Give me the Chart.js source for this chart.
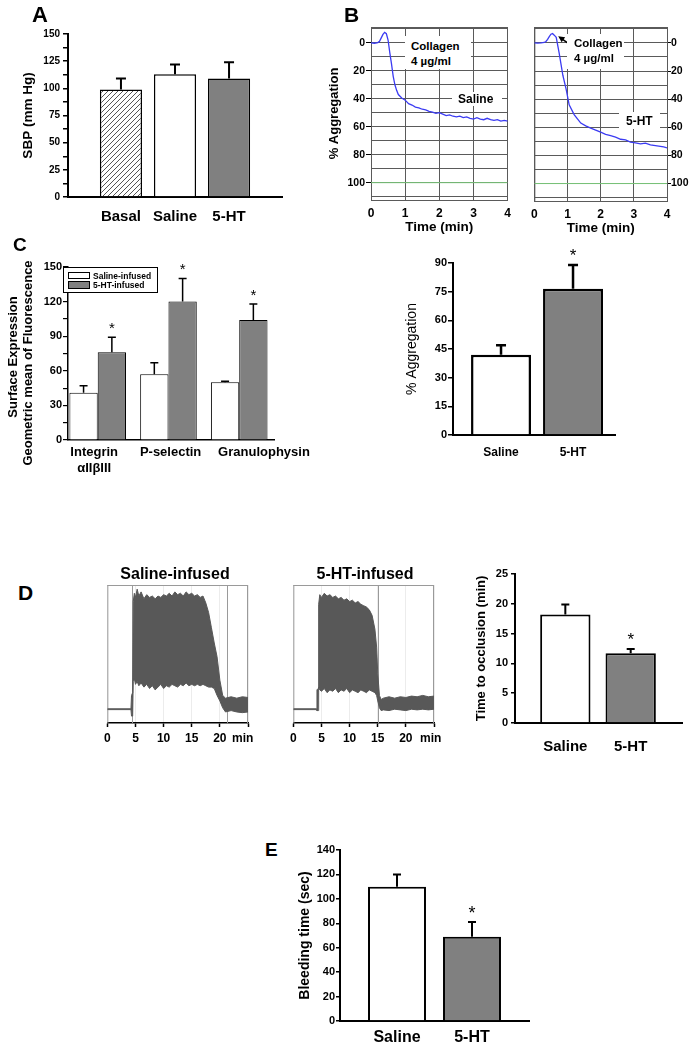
<!DOCTYPE html>
<html>
<head>
<meta charset="utf-8">
<script src="https://cdn.jsdelivr.net/npm/chart.js@4.4.1/dist/chart.umd.min.js"></script>
<style>
  body { margin: 0; background: #fff; }
  #fig { position: relative; width: 695px; height: 1050px; overflow: hidden; font-family: "Liberation Sans", Arial, sans-serif; }
  .t { position: absolute; font-weight: bold; color: #000; white-space: nowrap; line-height: 1; z-index: 3; }
  .c { transform: translate(-50%, -50%); }
  .l { transform: translate(0, -50%); }
  .r { transform: translate(-50%, -50%) rotate(-90deg); }
  .wb { position: absolute; background: #fff; z-index: 2; }
</style>
</head>
<body>
<div id="fig">
  <div class="t l" style="left:32px;top:15px;font-size:22px">A</div>
  <div class="t l" style="left:344px;top:14px;font-size:21px">B</div>
  <div class="t l" style="left:13px;top:244px;font-size:19px">C</div>
  <div class="t l" style="left:18px;top:592px;font-size:21px">D</div>
  <div class="t l" style="left:265px;top:849px;font-size:19px">E</div>

  <!-- B annotations -->
  <div class="wb" style="left:405px;top:36px;width:66px;height:33px"></div>
  <div class="t l" style="left:411px;top:47px;font-size:11.5px">Collagen</div>
  <div class="t l" style="left:411px;top:62px;font-size:11.5px">4 µg/ml</div>
  <div class="wb" style="left:452px;top:92px;width:50px;height:14px"></div>
  <div class="t l" style="left:458px;top:99px;font-size:12px">Saline</div>
  <div class="wb" style="left:567px;top:34px;width:57px;height:35px"></div>
  <div class="t l" style="left:574px;top:44px;font-size:11.5px">Collagen</div>
  <div class="t l" style="left:574px;top:59px;font-size:11.5px">4 µg/ml</div>
  <div class="wb" style="left:619px;top:112px;width:41px;height:17px"></div>
  <div class="t l" style="left:626px;top:121px;font-size:12px">5-HT</div>

  <!-- C axis title and legend -->
  <div class="t r" style="left:12px;top:357px;font-size:13px">Surface Expression</div>
  <div class="t r" style="left:27px;top:363px;font-size:13px">Geometric mean of Fluorescence</div>
  <div class="wb" style="left:63px;top:267px;width:93px;height:24px;border:1px solid #000"></div>
  <div class="wb" style="left:68px;top:272px;width:20px;height:5px;border:1px solid #000;z-index:3"></div>
  <div class="wb" style="left:68px;top:281px;width:20px;height:6px;border:1px solid #000;background:#808080;z-index:3"></div>
  <div class="t l" style="left:93px;top:275.5px;font-size:8.5px">Saline-infused</div>
  <div class="t l" style="left:93px;top:285px;font-size:8.5px">5-HT-infused</div>

  <!-- D titles -->
  <div class="t c" style="left:175px;top:574px;font-size:16px">Saline-infused</div>
  <div class="t c" style="left:365px;top:574px;font-size:16px">5-HT-infused</div>
  <div class="t l" style="left:232px;top:738px;font-size:12px">min</div>
  <div class="t l" style="left:420px;top:738px;font-size:12px">min</div>
</div>

<script>
// -------------- DATA ------------------

// A: systolic blood pressure
const aGroups = ["Basal", "Saline", "5-HT"];
const aSbp = [99, 113, 109];
const aSbpErr = [10, 9, 15];

// B: aggregation traces (time in min, % aggregation)
const bTimeSal = [0, 0.1, 0.2, 0.25, 0.3, 0.35, 0.4, 0.45, 0.5, 0.55, 0.6, 0.65, 0.7, 0.75, 0.8, 0.9, 1.0,
  1.1, 1.2, 1.3, 1.4, 1.5, 1.6, 1.7, 1.8, 1.9, 2.0, 2.1, 2.2, 2.3, 2.4, 2.5, 2.6, 2.7, 2.8, 2.9, 3.0,
  3.1, 3.2, 3.3, 3.4, 3.5, 3.6, 3.7, 3.8, 3.9, 4.0];
const bAggSal = [0, 0.3, -0.2, -1, -3.5, -6, -7.5, -6.5, -2, 7, 15, 24, 30, 34, 37, 39.5, 41,
  43.5, 44.5, 46, 46.5, 47.5, 48, 49, 49.5, 50.5, 50, 51, 52, 51.5, 52.5, 53, 52.5, 53.5, 53, 54, 54.5,
  53.5, 54.5, 55, 54, 55, 55.5, 55, 56, 55.5, 56];
const bTime5ht = [0, 0.1, 0.2, 0.3, 0.35, 0.4, 0.45, 0.5, 0.55, 0.6, 0.66, 0.75, 0.86, 0.96, 1.05, 1.2, 1.3,
  1.4, 1.55, 1.7, 1.85, 2.0, 2.15, 2.3, 2.45, 2.6, 2.75, 2.9, 3.05, 3.2, 3.35, 3.5, 3.65, 3.8, 3.9, 4.0];
const bAgg5ht = [0, 0.2, 0, -0.3, -1, -2.5, -4.5, -6.2, -6.6, -5.5, -4, 7.4, 23, 33, 44, 51, 54,
  57, 59, 60.6, 62, 63.5, 65, 66, 67, 68.5, 69, 70.5, 71, 71.8, 71.2, 72.5, 73, 73.5, 74, 74.6];
const bBaseTime = [0, 4];
const bBase = [100, 100];
const bGrid = [-10, 0, 10, 20, 30, 40, 50, 60, 70, 80, 90, 100, 110];
const bTickLabels = [0, 20, 40, 60, 80, 100];
const bArrowTip = [0.72, -4.7];

// C: surface expression
const cMarkers = [["Integrin", "αIIβIII"], "P-selectin", "Granulophysin"];
const cSaline = [41, 57, 50];
const cSalineErr = [6, 10, 1];
const c5ht = [76, 120, 104];
const c5htErr = [13, 20, 14];
const c5htSig = [true, true, true];

// C right: aggregation
const cAggGroups = ["Saline", "5-HT"];
const cAgg = [42, 76.5];
const cAggErr = [5, 12.5];
const cAggSig = [false, true];

// D: flow traces (time in min, envelope in % of full scale)
const dSalTime = [0, 4.2, 4.3, 4.5, 4.6, 4.8, 5.0, 5.3, 5.6, 6.0, 6.5, 7.0, 7.5, 8.0, 8.5, 9.0, 9.5, 10.0,
  10.5, 11.0, 11.5, 12.0, 12.5, 13.0, 13.5, 14.0, 14.5, 15.0, 15.5, 16.0, 16.5, 17.0, 17.5, 18.0, 18.5,
  19.0, 19.5, 20.0, 20.5, 21.0, 22.0, 23.0, 24.0, 25.0];
const dSalHigh = [10.3, 10.3, 20, 22, 88, 94, 91, 97, 92, 95, 90, 93, 91, 92, 90, 92, 91, 93,
  92, 94, 92, 95, 93, 94, 92, 95, 93, 94, 92, 93, 91, 92, 87, 80, 69,
  58, 48, 31, 20, 18, 19, 18, 19, 18.5];
const dSalLow = [9.7, 9.7, 5, 5, 30, 32, 28, 30, 27, 29, 26, 28, 25, 27, 24, 26, 28, 25,
  27, 26, 28, 27, 26, 28, 27, 29, 27, 28, 27, 28, 27, 28, 27, 26, 26,
  25, 20, 16, 11, 8, 9, 8, 7.5, 8];
const dSalMarks = [4.4, 21.2];
const d5htTime = [0, 4.1, 4.2, 4.4, 4.5, 4.7, 5.0, 5.5, 6.0, 6.5, 7.0, 7.5, 8.0, 8.5, 9.0, 9.5, 10.0,
  10.5, 11.0, 11.5, 12.0, 12.5, 13.0, 13.5, 14.0, 14.5, 14.8, 15.0, 15.3, 15.6,
  16, 17, 18, 19, 20, 21, 22, 23, 24, 25];
const d5htHigh = [10.3, 10.3, 24, 25, 86, 93, 91, 94, 92, 93, 91, 92, 90, 91, 89, 90, 88,
  89, 87, 88, 86, 85, 84, 82, 78, 68, 55, 36, 20, 17,
  18, 19, 18, 19, 18.5, 19.5, 19, 20, 19, 19.5];
const d5htLow = [9.7, 9.7, 9, 9, 26, 24, 23, 25, 22, 24, 23, 25, 22, 24, 23, 25, 22,
  24, 23, 22, 24, 23, 22, 24, 23, 22, 20, 16, 11, 9,
  9.5, 9, 10, 9.5, 9, 10, 9.5, 10, 9.5, 10];
const d5htMarks = [15.1];
const dTickLabels = ["0", "5", "10", "15", "20"];

// D right: time to occlusion
const dGroups = ["Saline", "5-HT"];
const dOccl = [18.2, 11.7];
const dOcclErr = [1.7, 0.7];
const dOcclSig = [false, true];

// E: bleeding time
const eGroups = ["Saline", "5-HT"];
const eBleed = [110, 69];
const eBleedErr = [10, 12];
const eSig = [false, true];


// -------------- SETUP ------------------

const FONT = '"Liberation Sans", Arial, sans-serif';
Chart.defaults.font.family = FONT;
Chart.defaults.color = "#000";
Chart.defaults.animation = false;
Chart.defaults.plugins.legend.display = false;
Chart.defaults.plugins.tooltip.enabled = false;

const bold = (size) => ({ size: size, weight: "bold", family: FONT });
const pairs = (xs, ys) => xs.map((x, i) => ({ x: x, y: ys[i] }));

function place(left, top, width, height) {
  const c = document.createElement("canvas");
  c.width = width;
  c.height = height;
  c.style.cssText = `position:absolute;left:${left}px;top:${top}px;width:${width}px;height:${height}px;z-index:1`;
  document.getElementById("fig").appendChild(c);
  return c;
}

function hatch() {
  const p = document.createElement("canvas");
  p.width = p.height = 5;
  const g = p.getContext("2d");
  g.fillStyle = "#fff";
  g.fillRect(0, 0, 5, 5);
  g.strokeStyle = "#555";
  g.lineWidth = 1;
  g.beginPath();
  g.moveTo(0, 5); g.lineTo(5, 0);
  g.moveTo(-1, 1); g.lineTo(1, -1);
  g.moveTo(4, 6); g.lineTo(6, 4);
  g.stroke();
  return g.createPattern(p, "repeat");
}

// error bars + significance stars, read from dataset.errors / dataset.stars
const errorBars = {
  id: "errorBars",
  afterDatasetsDraw(chart, args, opts) {
    const { ctx } = chart;
    const y = chart.scales.y;
    chart.data.datasets.forEach((ds, di) => {
      if (!ds.errors) return;
      chart.getDatasetMeta(di).data.forEach((bar, i) => {
        const top = y.getPixelForValue(ds.data[i].y + ds.errors[i]);
        ctx.save();
        ctx.strokeStyle = "#000";
        ctx.lineWidth = opts.width;
        ctx.beginPath();
        ctx.moveTo(bar.x, bar.y);
        ctx.lineTo(bar.x, top);
        ctx.moveTo(bar.x - opts.cap, top);
        ctx.lineTo(bar.x + opts.cap, top);
        ctx.stroke();
        if (ds.stars && ds.stars[i]) {
          ctx.fillStyle = "#000";
          ctx.font = opts.starFont;
          ctx.textAlign = "center";
          ctx.textBaseline = "bottom";
          ctx.fillText("*", bar.x, top - opts.starGap);
        }
        ctx.restore();
      });
    });
  }
};

// frame lines around the chart area
const frame = {
  id: "frame",
  beforeDatasetsDraw(chart, args, opts) {
    const { ctx, chartArea: a } = chart;
    ctx.save();
    ctx.strokeStyle = opts.color;
    ctx.lineWidth = 1;
    ctx.beginPath();
    if (opts.sides.includes("top")) { ctx.moveTo(a.left, a.top + 0.5); ctx.lineTo(a.right, a.top + 0.5); }
    if (opts.sides.includes("left")) { ctx.moveTo(a.left + 0.5, a.top); ctx.lineTo(a.left + 0.5, a.bottom); }
    if (opts.sides.includes("right")) { ctx.moveTo(a.right - 0.5, a.top); ctx.lineTo(a.right - 0.5, a.bottom); }
    ctx.stroke();
    ctx.restore();
  }
};

// vertical event lines on the flow traces
const markers = {
  id: "markers",
  beforeDatasetsDraw(chart, args, opts) {
    const { ctx, chartArea: a } = chart;
    const x = chart.scales.x;
    ctx.save();
    ctx.strokeStyle = "#9a9a9a";
    ctx.lineWidth = 1;
    opts.times.forEach((t) => {
      const px = Math.round(x.getPixelForValue(t)) + 0.5;
      ctx.beginPath();
      ctx.moveTo(px, a.top);
      ctx.lineTo(px, a.bottom);
      ctx.stroke();
    });
    ctx.restore();
  }
};

// arrow pointing at the collagen bump
const arrow = {
  id: "arrow",
  afterDatasetsDraw(chart, args, opts) {
    const { ctx } = chart;
    const tx = chart.scales.x.getPixelForValue(opts.tip[0]);
    const ty = chart.scales.y.getPixelForValue(opts.tip[1]);
    const fx = tx + 13, fy = ty + 9;
    const ang = Math.atan2(ty - fy, tx - fx);
    ctx.save();
    ctx.strokeStyle = ctx.fillStyle = "#000";
    ctx.lineWidth = 1.5;
    ctx.beginPath();
    ctx.moveTo(fx, fy);
    ctx.lineTo(tx - 4 * Math.cos(ang), ty - 4 * Math.sin(ang));
    ctx.stroke();
    ctx.beginPath();
    ctx.moveTo(tx, ty);
    ctx.lineTo(tx - 7 * Math.cos(ang - 0.45), ty - 7 * Math.sin(ang - 0.45));
    ctx.lineTo(tx - 7 * Math.cos(ang + 0.45), ty - 7 * Math.sin(ang + 0.45));
    ctx.closePath();
    ctx.fill();
    ctx.restore();
  }
};


// -------------- BAR CHART HELPER ------------------

function barChart(o) {
  const top = o.top - o.padTop;
  const cvs = place(o.left, top, o.right + o.padRight - o.left, o.bottom + o.xh - top);
  const labelAt = o.labelAt || o.labels.map((_, i) => i);
  return new Chart(cvs, {
    type: "bar",
    data: { datasets: o.datasets },
    plugins: [errorBars],
    options: {
      responsive: false,
      layout: { padding: { top: o.padTop, right: o.padRight, left: 0, bottom: 0 } },
      plugins: { errorBars: o.err },
      scales: {
        x: {
          type: "linear",
          min: o.xMin,
          max: o.xMax,
          offset: false,
          grid: { display: false, drawTicks: false },
          border: { color: "#000", width: o.axisW },
          afterBuildTicks: (s) => { s.ticks = labelAt.map((v) => ({ value: v })); },
          ticks: { autoSkip: false, maxRotation: 0, padding: o.xPad, font: o.xFont, callback: (v, i) => o.labels[i] },
          afterFit: (s) => { s.height = o.xh; }
        },
        y: {
          min: 0,
          max: o.yMax,
          grid: { drawOnChartArea: false, color: "#000", tickLength: o.tickLen, lineWidth: o.tickW },
          border: { color: "#000", width: o.axisW },
          ticks: {
            stepSize: o.yStep,
            autoSkip: false,
            padding: o.tickPad,
            font: o.tickFont,
            callback: (v) => (v % o.yLabelStep === 0 ? v : "")
          },
          title: { display: !!o.yTitle, text: o.yTitle, font: o.titleFont, padding: 0 },
          afterFit: (s) => { s.width = o.axisX - o.left; }
        }
      }
    }
  });
}


// ------------ A: SBP ------------------

barChart({
  left: 20, axisX: 68, top: 34, bottom: 197, right: 282, padTop: 10, padRight: 8, xh: 34,
  xMin: -0.98, xMax: 2.98, labels: aGroups, xPad: 11, xFont: bold(15),
  yMax: 150, yStep: 12.5, yLabelStep: 25, tickLen: 5, tickW: 1.5, tickPad: 3, tickFont: bold(10),
  axisW: 2, yTitle: "SBP (mm Hg)", titleFont: bold(13.5),
  err: { cap: 5, width: 2, starFont: "16px " + FONT, starGap: 0 },
  datasets: [{
    data: pairs(aGroups.map((_, i) => i), aSbp),
    errors: aSbpErr,
    backgroundColor: [hatch(), "#fff", "#808080"],
    borderColor: "#000",
    borderWidth: 1.5,
    barPercentage: 0.78,
    categoryPercentage: 1
  }]
});


// ------------ B: AGGREGATION TRACES ------------------

function aggScale(side, withTitle) {
  return {
    reverse: true,
    min: -11.3,
    max: 112.4,
    position: side,
    afterBuildTicks: (s) => { s.ticks = bGrid.map((v) => ({ value: v })); },
    grid: {
      color: "#5a5a5a",
      tickLength: side === "left" ? 5 : 4,
      tickColor: (c) => (c.tick && bTickLabels.includes(c.tick.value) ? "#000" : "rgba(0,0,0,0)")
    },
    border: { color: "#5a5a5a" },
    ticks: { autoSkip: false, padding: side === "left" ? 1 : 0, font: bold(10.5), callback: (v) => (bTickLabels.includes(v) ? v : "") },
    title: { display: withTitle, text: "% Aggregation", font: bold(13), padding: 0 },
    afterFit: (s) => { s.width = side === "left" ? 44 : 28; }
  };
}

function timeScale() {
  return {
    type: "linear",
    min: 0,
    max: 4,
    grid: { color: "#5a5a5a", drawTicks: false },
    border: { color: "#5a5a5a" },
    ticks: { stepSize: 1, padding: 6, font: bold(12) },
    title: { display: true, text: "Time (min)", font: bold(13.5), padding: 0 },
    afterFit: (s) => { s.height = 35; }
  };
}

new Chart(place(327, 19, 190, 216), {
  type: "line",
  data: {
    datasets: [
      { data: pairs(bBaseTime, bBase), borderColor: "#7ac77a", borderWidth: 1, pointRadius: 0 },
      { data: pairs(bTimeSal, bAggSal), borderColor: "#3b3bf2", borderWidth: 1.3, pointRadius: 0 }
    ]
  },
  plugins: [frame],
  options: {
    responsive: false,
    layout: { padding: { top: 8, right: 8, left: 0, bottom: 0 } },
    plugins: { frame: { color: "#5a5a5a", sides: ["top"] } },
    scales: { x: timeScale(), y: aggScale("left", true) }
  }
});

new Chart(place(525, 19, 170, 217), {
  type: "line",
  data: {
    datasets: [
      { data: pairs(bBaseTime, bBase), borderColor: "#7ac77a", borderWidth: 1, pointRadius: 0 },
      { data: pairs(bTime5ht, bAgg5ht), borderColor: "#3b3bf2", borderWidth: 1.3, pointRadius: 0 }
    ]
  },
  plugins: [frame, arrow],
  options: {
    responsive: false,
    layout: { padding: { top: 8, right: 0, left: 8, bottom: 0 } },
    plugins: { frame: { color: "#5a5a5a", sides: ["top", "left"] }, arrow: { tip: bArrowTip } },
    scales: { x: timeScale(), y: aggScale("right", false) }
  }
});


// ------------ C: SURFACE EXPRESSION ------------------

barChart({
  left: 4, axisX: 68, top: 267, bottom: 440, right: 275, padTop: 12, padRight: 42, xh: 40,
  xMin: -0.42, xMax: 2.5, labels: cMarkers, labelAt: [-0.05, 1.03, 2.35], xPad: 5, xFont: bold(13),
  yMax: 150, yStep: 15, yLabelStep: 30, tickLen: 5, tickW: 1.2, tickPad: 1, tickFont: bold(11),
  axisW: 1.5, yTitle: "",
  err: { cap: 4, width: 1.5, starFont: "15px " + FONT, starGap: 1 },
  datasets: [
    {
      data: pairs(cMarkers.map((_, i) => i), cSaline),
      errors: cSalineErr,
      backgroundColor: "#fff", borderColor: "#000", borderWidth: 1,
      barPercentage: 1, categoryPercentage: 0.8
    },
    {
      data: pairs(cMarkers.map((_, i) => i), c5ht),
      errors: c5htErr, stars: c5htSig,
      backgroundColor: "#808080", borderColor: "#000", borderWidth: 1,
      barPercentage: 1, categoryPercentage: 0.8
    }
  ]
});

barChart({
  left: 404, axisX: 453, top: 263, bottom: 435, right: 615, padTop: 20, padRight: 8, xh: 30,
  xMin: -0.667, xMax: 1.583, labels: cAggGroups, xPad: 10, xFont: bold(12),
  yMax: 90, yStep: 15, yLabelStep: 15, tickLen: 5, tickW: 1.5, tickPad: 1, tickFont: bold(11),
  axisW: 2, yTitle: "% Aggregation", titleFont: { size: 14, family: FONT },
  err: { cap: 5, width: 2.5, starFont: "17px " + FONT, starGap: 0 },
  datasets: [{
    data: pairs(cAggGroups.map((_, i) => i), cAgg),
    errors: cAggErr, stars: cAggSig,
    backgroundColor: ["#fff", "#808080"], borderColor: "#000", borderWidth: 2.5,
    barPercentage: 0.833, categoryPercentage: 1
  }]
});


// ------------ D: FLOW TRACES ------------------

function flowTrace(left, time, high, low, marks) {
  return new Chart(place(left, 580, 156, 165), {
    type: "line",
    data: {
      datasets: [
        { data: pairs(time, low), borderColor: "#585858", borderWidth: 1, pointRadius: 0, fill: false },
        { data: pairs(time, high), borderColor: "#585858", borderWidth: 1, pointRadius: 0, fill: "-1", backgroundColor: "#585858" }
      ]
    },
    plugins: [frame, markers],
    options: {
      responsive: false,
      layout: { padding: { top: 5, right: 8, left: 6, bottom: 0 } },
      plugins: { frame: { color: "#9a9a9a", sides: ["top", "left", "right"] }, markers: { times: marks } },
      scales: {
        x: {
          type: "linear",
          min: 0,
          max: 25,
          grid: { color: "#ececec", tickColor: "#000", tickLength: 4, tickWidth: 1.5 },
          border: { color: "#000", width: 1.5 },
          ticks: { stepSize: 5, padding: 4, font: bold(12), callback: (v, i) => dTickLabels[i] || "" },
          afterFit: (s) => { s.height = 22; }
        },
        y: { display: false, min: 0, max: 100 }
      }
    }
  });
}

flowTrace(100, dSalTime, dSalHigh, dSalLow, dSalMarks);
flowTrace(286, d5htTime, d5htHigh, d5htLow, d5htMarks);

barChart({
  left: 474, axisX: 515, top: 574, bottom: 723, right: 682, padTop: 10, padRight: 8, xh: 34,
  xMin: -0.77, xMax: 1.785, labels: dGroups, xPad: 15, xFont: bold(15),
  yMax: 25, yStep: 5, yLabelStep: 5, tickLen: 4, tickW: 1.5, tickPad: 3, tickFont: bold(11),
  axisW: 2, yTitle: "Time to occlusion (min)", titleFont: bold(13),
  err: { cap: 4, width: 2, starFont: "17px " + FONT, starGap: 0 },
  datasets: [{
    data: pairs(dGroups.map((_, i) => i), dOccl),
    errors: dOcclErr, stars: dOcclSig,
    backgroundColor: ["#fff", "#808080"], borderColor: "#000", borderWidth: 2,
    barPercentage: 0.77, categoryPercentage: 1
  }]
});


// ------------ E: BLEEDING TIME ------------------

barChart({
  left: 297, axisX: 340, top: 850, bottom: 1021, right: 529, padTop: 10, padRight: 8, xh: 29,
  xMin: -0.76, xMax: 1.76, labels: eGroups, xPad: 7, xFont: bold(16),
  yMax: 140, yStep: 20, yLabelStep: 20, tickLen: 4, tickW: 1.5, tickPad: 1, tickFont: bold(11),
  axisW: 2, yTitle: "Bleeding time (sec)", titleFont: bold(14),
  err: { cap: 4, width: 2, starFont: "18px " + FONT, starGap: -1 },
  datasets: [{
    data: pairs(eGroups.map((_, i) => i), eBleed),
    errors: eBleedErr, stars: eSig,
    backgroundColor: ["#fff", "#808080"], borderColor: "#000", borderWidth: 2,
    barPercentage: 0.773, categoryPercentage: 1
  }]
});
</script>
</body>
</html>
